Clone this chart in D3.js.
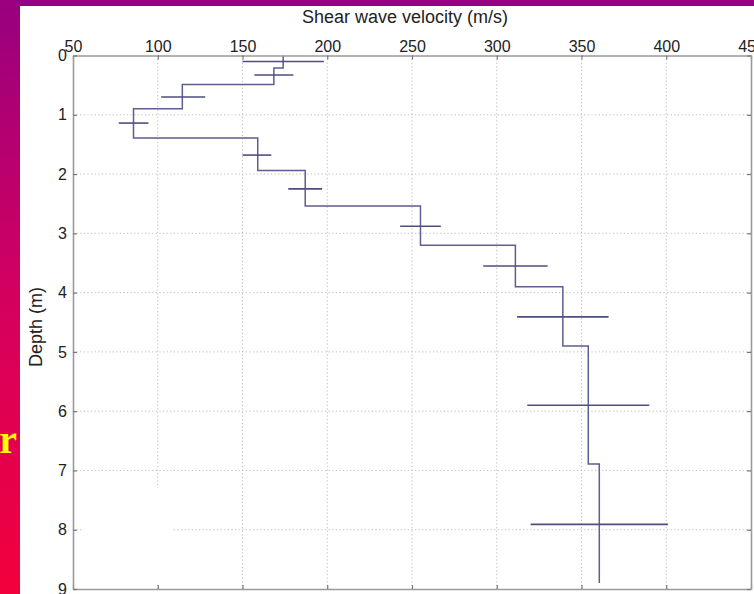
<!DOCTYPE html>
<html>
<head>
<meta charset="utf-8">
<script src="https://cdn.jsdelivr.net/npm/d3@7"></script>
<style>
  html, body { margin: 0; padding: 0; background: #fff; }
  svg { display: block; }
  text { font-family: "Liberation Sans", Arial, Helvetica, sans-serif; fill: #222; }
</style>
</head>
<body>
<svg id="chart" width="754" height="594"></svg>
<script>
// Axis ticks
const velocityTicks = [50, 100, 150, 200, 250, 300, 350, 400, 450];
const depthTicks = [0, 1, 2, 3, 4, 5, 6, 7, 8, 9];
const gridVelocities = [100, 150, 200, 250, 300, 350, 400];
const gridDepths = [1, 2, 3, 4, 5, 6, 7, 8];

// Layered shear-wave velocity profile (m/s) with layer boundaries (m)
const layerVs = [174, 168.5, 114.5, 85.7, 159, 187, 255, 311, 339, 354, 360.5];
const layerTop = [0, 0.21, 0.49, 0.9, 1.39, 1.94, 2.54, 3.2, 3.9, 4.9, 6.89];
const layerBottom = [0.21, 0.49, 0.9, 1.39, 1.94, 2.54, 3.2, 3.9, 4.9, 6.89, 8.9];

// Velocity uncertainty bars at each layer
const errDepth = [0.1, 0.33, 0.70, 1.14, 1.68, 2.25, 2.88, 3.55, 4.41, 5.9, 7.91];
const errLow = [150, 157, 102, 77, 150, 177, 243, 292, 312, 318, 320];
const errHigh = [198, 180, 128, 94.5, 167, 197, 267, 330, 366, 390, 401];

const svg = d3.select("#chart");
const W = 754, H = 594;

// Slide background: purple-to-red gradient with a white panel
const defs = svg.append("defs");
const grad = defs.append("linearGradient")
  .attr("id", "bg").attr("x1", 0).attr("y1", 0).attr("x2", 0).attr("y2", 1);
grad.append("stop").attr("offset", "0%").attr("stop-color", "#98007f");
grad.append("stop").attr("offset", "50%").attr("stop-color", "#d4005f");
grad.append("stop").attr("offset", "100%").attr("stop-color", "#f2003c");
svg.append("rect").attr("width", W).attr("height", H).attr("fill", "url(#bg)");
svg.append("rect").attr("x", 0).attr("y", 0).attr("width", W).attr("height", 6).attr("fill", "#98007f");
svg.append("text")
  .attr("x", 17).attr("y", 453)
  .attr("text-anchor", "end")
  .style("font-family", "'Liberation Serif', 'Times New Roman', serif")
  .style("font-weight", "bold")
  .style("font-size", "40px")
  .style("fill", "#ffff00")
  .text("r");
svg.append("rect").attr("x", 20).attr("y", 6).attr("width", W - 20).attr("height", H - 6).attr("fill", "#fff");

// Scales
const x = d3.scaleLinear().domain([50, 450]).range([73, 751]);
const y = d3.scaleLinear().domain([0, 9]).range([55.5, 589]);

const plot = svg.append("g");

// Dotted grid
plot.append("g").selectAll("line").data(gridVelocities).join("line")
  .attr("x1", d => x(d)).attr("x2", d => x(d))
  .attr("y1", y(0)).attr("y2", y(9))
  .attr("stroke", "#bdbdbd").attr("stroke-width", 1)
  .attr("stroke-dasharray", "1.2,2.4");
plot.append("g").selectAll("line").data(gridDepths).join("line")
  .attr("y1", d => y(d)).attr("y2", d => y(d))
  .attr("x1", x(50)).attr("x2", x(450))
  .attr("stroke", "#bdbdbd").attr("stroke-width", 1)
  .attr("stroke-dasharray", "1.2,2.4");

// Faded patch near the lower-left corner of the plot
plot.append("rect")
  .attr("x", 84).attr("y", 488).attr("width", 88).attr("height", 96)
  .attr("fill", "#fff");

// Axes with inward ticks
const axisColor = "#9a9a9a";
function styleAxis(g) {
  g.select(".domain").attr("stroke", axisColor).attr("stroke-width", 1.6);
  g.selectAll(".tick line").attr("stroke", "#777").attr("stroke-width", 1.2);
  g.selectAll(".tick text").style("font-size", "16px").style("fill", "#222");
}

svg.append("g")
  .attr("transform", `translate(0,${y(0)})`)
  .call(d3.axisTop(x).tickValues(velocityTicks).tickSizeInner(-4).tickSizeOuter(0).tickPadding(4))
  .call(styleAxis);

svg.append("g")
  .attr("transform", `translate(0,${y(9)})`)
  .call(d3.axisBottom(x).tickValues(velocityTicks).tickSizeInner(-4).tickSizeOuter(0).tickFormat(""))
  .call(styleAxis);

svg.append("g")
  .attr("transform", `translate(${x(50)},0)`)
  .call(d3.axisLeft(y).tickValues(depthTicks).tickSizeInner(-4).tickSizeOuter(0).tickPadding(6))
  .call(styleAxis);

svg.append("g")
  .attr("transform", `translate(${x(450)},0)`)
  .call(d3.axisRight(y).tickValues(depthTicks).tickSizeInner(-4).tickSizeOuter(0).tickFormat(""))
  .call(styleAxis);

svg.selectAll(".tick text").style("fill", "#222");

// Step profile
const profilePts = [];
layerVs.forEach((v, i) => {
  profilePts.push([v, layerTop[i]]);
  profilePts.push([v, layerBottom[i]]);
});
const line = d3.line().x(d => x(d[0])).y(d => y(d[1]));
plot.append("path")
  .attr("d", line(profilePts))
  .attr("fill", "none")
  .attr("stroke", "#5e5e90")
  .attr("stroke-width", 1.5);

// Error bars
plot.append("g").selectAll("line").data(errDepth).join("line")
  .attr("x1", (d, i) => x(errLow[i]))
  .attr("x2", (d, i) => x(errHigh[i]))
  .attr("y1", d => y(d)).attr("y2", d => y(d))
  .attr("stroke", "#4e4e80")
  .attr("stroke-width", 1.6);

// Titles
svg.append("text")
  .attr("x", 405).attr("y", 23)
  .attr("text-anchor", "middle")
  .style("font-size", "18px")
  .text("Shear wave velocity (m/s)");

svg.append("text")
  .attr("transform", `translate(42,${327}) rotate(-90)`)
  .attr("text-anchor", "middle")
  .style("font-size", "18px")
  .text("Depth (m)");
</script>
</body>
</html>
